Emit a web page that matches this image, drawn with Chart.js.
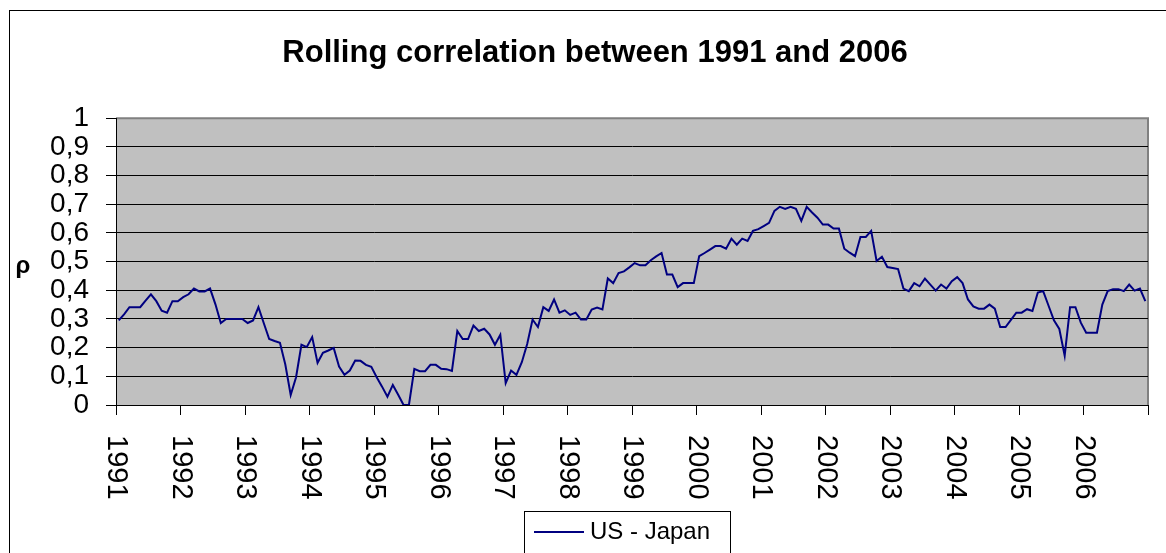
<!DOCTYPE html>
<html>
<head>
<meta charset="utf-8">
<title>Rolling correlation between 1991 and 2006</title>
<script src="https://cdn.jsdelivr.net/npm/chart.js@4.4.1/dist/chart.umd.min.js"></script>
<style>
  html, body { margin: 0; padding: 0; overflow: hidden; background: #fff; }
  #chart { display: block; }
</style>
</head>
<body>
<canvas id="chart" width="1190" height="553"></canvas>
<script>
var years = ['1991', '1992', '1993', '1994', '1995', '1996', '1997', '1998',
             '1999', '2000', '2001', '2002', '2003', '2004', '2005', '2006'];
var months = ['01', '02', '03', '04', '05', '06', '07', '08', '09', '10', '11', '12'];
var seriesName = 'US - Japan';

// monthly rolling correlation
var usJapan = [
  0.295, 0.316, 0.341, 0.341, 0.341, 0.364, 0.386, 0.362, 0.329, 0.322, 0.362, 0.362,
  0.376, 0.386, 0.406, 0.396, 0.396, 0.406, 0.351, 0.286, 0.300, 0.300, 0.300, 0.300,
  0.286, 0.295, 0.341, 0.285, 0.230, 0.223, 0.217, 0.141, 0.035, 0.097, 0.210, 0.202,
  0.237, 0.147, 0.182, 0.190, 0.199, 0.134, 0.105, 0.120, 0.155, 0.154, 0.140, 0.133,
  0.097, 0.064, 0.029, 0.070, 0.036, 0.000, 0.000, 0.126, 0.118, 0.118, 0.140, 0.140,
  0.126, 0.125, 0.119, 0.258, 0.230, 0.230, 0.277, 0.258, 0.266, 0.246, 0.210, 0.245,
  0.076, 0.120, 0.105, 0.149, 0.213, 0.298, 0.272, 0.341, 0.328, 0.368, 0.322, 0.330,
  0.314, 0.322, 0.298, 0.298, 0.333, 0.340, 0.333, 0.441, 0.425, 0.460, 0.466, 0.480,
  0.495, 0.487, 0.487, 0.505, 0.518, 0.530, 0.455, 0.455, 0.411, 0.425, 0.425, 0.425,
  0.519, 0.530, 0.542, 0.554, 0.554, 0.545, 0.580, 0.559, 0.580, 0.572, 0.607, 0.613,
  0.624, 0.635, 0.677, 0.691, 0.684, 0.691, 0.684, 0.642, 0.691, 0.671, 0.653, 0.629,
  0.629, 0.615, 0.615, 0.545, 0.531, 0.519, 0.586, 0.586, 0.607, 0.502, 0.517, 0.481,
  0.478, 0.474, 0.406, 0.397, 0.425, 0.414, 0.441, 0.420, 0.399, 0.420, 0.406, 0.432,
  0.446, 0.425, 0.368, 0.344, 0.336, 0.336, 0.350, 0.336, 0.272, 0.272, 0.297, 0.322,
  0.322, 0.334, 0.328, 0.392, 0.397, 0.346, 0.295, 0.265, 0.172, 0.341, 0.341, 0.287,
  0.252, 0.252, 0.252, 0.350, 0.397, 0.404, 0.404, 0.397, 0.420, 0.399, 0.406, 0.362
];

var categories = [];
years.forEach(function (y) {
  months.forEach(function (m) { categories.push(y + '-' + m); });
});

var FONT = "'Liberation Sans', Arial, sans-serif";
var LINE_COLOR = '#000080';

// frame, grey plot area, turned year labels, rho and the boxed legend
var excelLook = {
  id: 'excelLook',
  beforeDraw: function (chart) {
    var ctx = chart.ctx, a = chart.chartArea;
    ctx.save();
    ctx.fillStyle = '#fff';
    ctx.fillRect(0, 0, chart.width, chart.height);
    ctx.strokeStyle = '#000';
    ctx.lineWidth = 1;
    ctx.strokeRect(9.5, 10.5, chart.width - 19, chart.height + 20);
    ctx.fillStyle = '#c0c0c0';
    ctx.fillRect(a.left, a.top, a.right - a.left, a.bottom - a.top);
    ctx.strokeStyle = '#808080';
    ctx.lineWidth = 2;
    ctx.beginPath();
    ctx.moveTo(a.left, a.top);
    ctx.lineTo(a.right, a.top);
    ctx.lineTo(a.right, a.bottom);
    ctx.stroke();
    ctx.restore();
  },
  afterDraw: function (chart) {
    var ctx = chart.ctx, a = chart.chartArea, sx = chart.scales.x;
    var step = (sx.right - sx.left) / categories.length;
    ctx.save();
    ctx.fillStyle = '#000';

    ctx.font = '29px ' + FONT;
    ctx.textAlign = 'left';
    ctx.textBaseline = 'middle';
    years.forEach(function (y, k) {
      var x = sx.getPixelForValue(k * months.length) - step / 2;
      ctx.save();
      ctx.translate(x, a.bottom + 30);
      ctx.rotate(Math.PI / 2);
      ctx.fillText(y, 0, 0);
      ctx.restore();
    });

    ctx.font = 'bold 24px ' + FONT;
    ctx.textAlign = 'center';
    ctx.fillText('\u03C1', 23, 266);

    // legend
    ctx.strokeStyle = '#000';
    ctx.lineWidth = 1;
    ctx.strokeRect(524.5, 511.5, 206, 60);
    ctx.strokeStyle = LINE_COLOR;
    ctx.lineWidth = 2;
    ctx.beginPath();
    ctx.moveTo(534, 532);
    ctx.lineTo(584, 532);
    ctx.stroke();
    ctx.font = '24px ' + FONT;
    ctx.textAlign = 'left';
    ctx.fillText(chart.data.datasets[0].label, 590, 532);
    ctx.restore();
  }
};

var ctx = document.getElementById('chart').getContext('2d');
var chart = new Chart(ctx, {
  type: 'line',
  data: {
    labels: categories,
    datasets: [{
      label: seriesName,
      data: usJapan,
      borderColor: LINE_COLOR,
      borderWidth: 2,
      pointRadius: 0,
      tension: 0,
      fill: false
    }]
  },
  options: {
    responsive: false,
    animation: false,
    layout: { padding: { left: 42, right: 42 } },
    plugins: {
      legend: { display: false },
      tooltip: { enabled: false },
      title: {
        display: true,
        text: 'Rolling correlation between 1991 and 2006',
        color: '#000',
        font: { family: FONT, size: 31, weight: 'bold' },
        padding: { top: 35, bottom: 46 }
      }
    },
    scales: {
      x: {
        type: 'category',
        offset: true,
        grid: {
          offset: true,
          drawOnChartArea: false,
          drawTicks: true,
          tickLength: 10,
          lineWidth: 1,
          color: function (c) {
            return (c.index === undefined || c.index % 12 === 0) ? '#000' : 'rgba(0,0,0,0)';
          }
        },
        border: { display: true, color: '#000', width: 1 },
        ticks: { display: false, autoSkip: false },
        afterFit: function (s) { s.height = 148; }
      },
      y: {
        min: 0,
        max: 1,
        ticks: {
          stepSize: 0.1,
          autoSkip: false,
          color: '#000',
          padding: 17,
          font: { family: FONT, size: 28, lineHeight: 1 },
          callback: function (v) {
            return String(Math.round(v * 10) / 10).replace('.', ',');
          }
        },
        grid: {
          lineWidth: 1,
          tickLength: 10,
          tickColor: '#000',
          color: function (c) {
            return (c.tick && Math.round(c.tick.value * 10) === 10) ? '#808080' : '#000';
          }
        },
        border: { display: true, color: '#000', width: 1 },
        afterFit: function (s) { s.width = 74; }
      }
    }
  },
  plugins: [excelLook]
});
</script>
</body>
</html>
